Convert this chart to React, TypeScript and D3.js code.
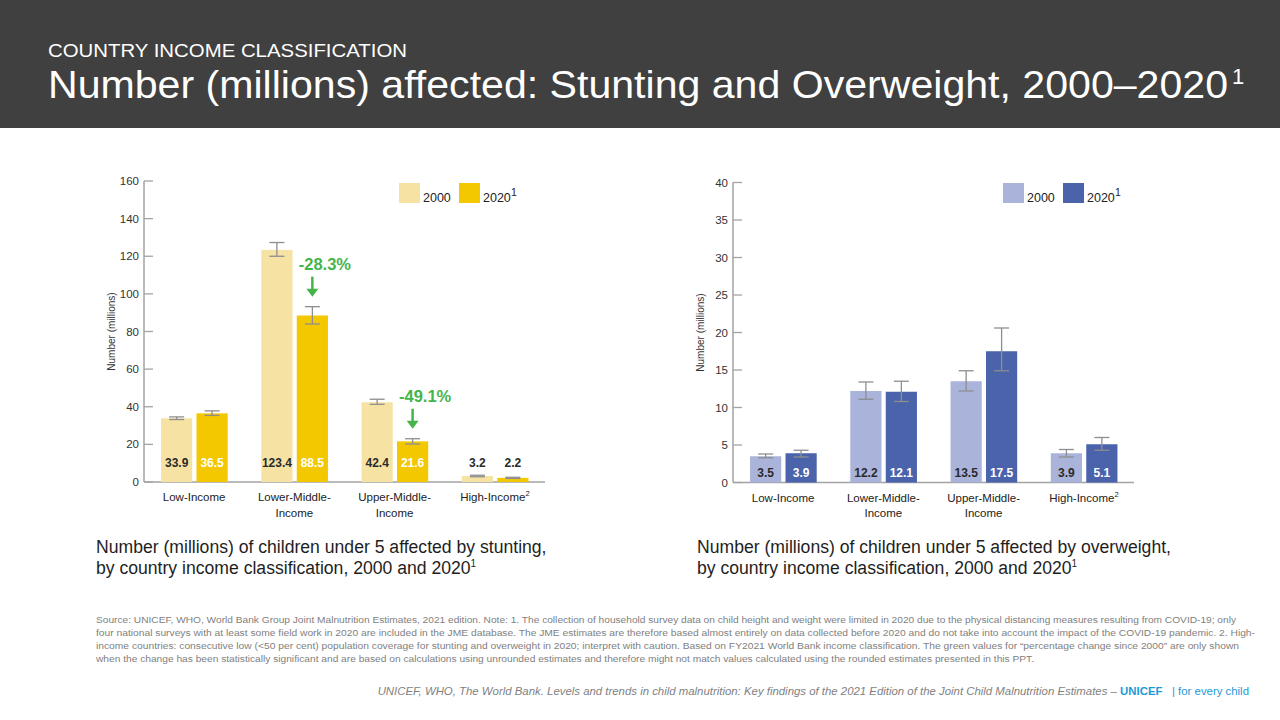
import React, { useEffect } from 'react';
import * as d3 from 'd3';

const categories = ['Low-Income', 'Lower-Middle-Income', 'Upper-Middle-Income', 'High-Income'];
const categoryLabelLines = [['Low-Income'], ['Lower-Middle-', 'Income'], ['Upper-Middle-', 'Income'], ['High-Income']];
const categorySuperscripts = ['', '', '', '2'];
const years = ['2000', '2020'];

const stunting2000 = [33.9, 123.4, 42.4, 3.2];
const stunting2020 = [36.5, 88.5, 21.6, 2.2];
const stunting2000Lower = [33.2, 120.0, 41.3, 2.8];
const stunting2000Upper = [34.6, 127.3, 44.0, 3.6];
const stunting2020Lower = [35.4, 84.0, 20.2, 1.9];
const stunting2020Upper = [37.8, 93.2, 23.0, 2.5];
const stuntingChange = ['', '-28.3%', '-49.1%', ''];
const stuntingTicks = [0, 20, 40, 60, 80, 100, 120, 140, 160];

const overweight2000 = [3.5, 12.2, 13.5, 3.9];
const overweight2020 = [3.9, 12.1, 17.5, 5.1];
const overweight2000Lower = [3.3, 11.1, 12.2, 3.4];
const overweight2000Upper = [3.8, 13.4, 14.9, 4.4];
const overweight2020Lower = [3.4, 10.8, 14.9, 4.3];
const overweight2020Upper = [4.3, 13.5, 20.6, 6.0];
const overweightChange = ['', '', '', ''];
const overweightTicks = [0, 5, 10, 15, 20, 25, 30, 35, 40];

const sourceLines = [
  'Source: UNICEF, WHO, World Bank Group Joint Malnutrition Estimates, 2021 edition. Note: 1. The collection of household survey data on child height and weight were limited in 2020 due to the physical distancing measures resulting from COVID-19; only',
  'four national surveys with at least some field work in 2020 are included in the JME database. The JME estimates are therefore based almost entirely on data collected before 2020 and do not take into account the impact of the COVID-19 pandemic.  2. High-',
  'income countries: consecutive low (<50 per cent) population coverage for stunting and overweight in 2020; interpret with caution. Based on FY2021 World Bank income classification. The green values for \u201cpercentage change since 2000\u201d are only shown',
  'when the change has been statistically significant and are based on calculations using unrounded estimates and therefore might not match values calculated using the rounded estimates presented in this PPT.',
];
const sourceLengths = [1140, 1159, 1143, 938];

const FONT = "'Liberation Sans', Arial, sans-serif";
const GREEN = '#45b549';
const AXIS = '#a3a3a3';
const ERR = '#8e8e8e';
const DARK = '#2a2a2a';

type ChartProps = {
  x0: number; x1: number; yBottom: number; yTop: number; yMax: number; ticks: number[];
  v2000: number[]; v2020: number[]; lo2000: number[]; hi2000: number[]; lo2020: number[]; hi2020: number[];
  change: string[]; colors: string[]; labelOffset: number; legendX: number; yTitleX: number;
  caption: string[]; captionX: number;
};

function BarChart(p: ChartProps) {
  const x = d3.scaleBand<string>().domain(categories).range([p.x0, p.x1]).paddingInner(0).paddingOuter(0);
  const bw = x.bandwidth();
  const sub = d3.scaleBand<string>().domain(years).range([bw * 0.17, bw * 0.835]).paddingInner(0.12);
  const y = d3.scaleLinear().domain([0, p.yMax]).range([p.yBottom, p.yTop]);
  const series = [
    { year: '2000', vals: p.v2000, lo: p.lo2000, hi: p.hi2000, color: p.colors[0] },
    { year: '2020', vals: p.v2020, lo: p.lo2020, hi: p.hi2020, color: p.colors[1] },
  ];
  const labelY = p.yBottom - p.labelOffset;
  const capW = 15;
  return (
    <g fontFamily={FONT}>
      <line x1={p.x0} x2={p.x0} y1={y(p.yMax)} y2={p.yBottom} stroke={AXIS} strokeWidth={1.5} />
      <line x1={p.x0} x2={p.x1} y1={p.yBottom} y2={p.yBottom} stroke={AXIS} strokeWidth={1.5} />
      {p.ticks.map((t) => (
        <g key={t}>
          <line x1={p.x0} x2={p.x0 + 9} y1={y(t)} y2={y(t)} stroke={AXIS} strokeWidth={1.3} />
          <text x={p.x0 - 5} y={y(t)} dy="0.35em" textAnchor="end" fontSize={11.5} fill="#333">{t}</text>
        </g>
      ))}
      <text transform={`translate(${p.yTitleX},${(p.yTop + p.yBottom) / 2})) rotate(-90)`.replace('))', ')')} textAnchor="middle" fontSize={10} fill="#333" dy="0.35em">Number (millions)</text>
      {series.map((s) => categories.map((c, i) => {
        const bx = (x(c) as number) + (sub(s.year) as number);
        const cx = bx + sub.bandwidth() / 2;
        const top = y(s.vals[i]);
        const inside = top < labelY - 12;
        const labelColor = s.year === '2020' && inside ? '#ffffff' : DARK;
        return (
          <g key={s.year + c}>
            <rect x={bx} y={top} width={sub.bandwidth()} height={p.yBottom - top} fill={s.color} />
            <line x1={cx} x2={cx} y1={y(s.lo[i])} y2={y(s.hi[i])} stroke={ERR} strokeWidth={1.3} />
            <line x1={cx - capW / 2} x2={cx + capW / 2} y1={y(s.lo[i])} y2={y(s.lo[i])} stroke={ERR} strokeWidth={1.3} />
            <line x1={cx - capW / 2} x2={cx + capW / 2} y1={y(s.hi[i])} y2={y(s.hi[i])} stroke={ERR} strokeWidth={1.3} />
            <text x={cx} y={labelY} textAnchor="middle" fontSize={12} fontWeight="bold" fill={labelColor}>{s.vals[i].toFixed(1)}</text>
          </g>
        );
      }))}
      {categories.map((c, i) => {
        if (!p.change[i]) return null;
        const bx = (x(c) as number) + (sub('2020') as number);
        const cx = bx + sub.bandwidth() / 2;
        const aEnd = y(p.hi2020[i]) - 10;
        const aStart = aEnd - 20;
        return (
          <g key={'chg' + c}>
            <text x={bx + 2} y={aStart - 7} fontSize={16.5} fontWeight="bold" fill={GREEN}>{p.change[i]}</text>
            <line x1={cx} x2={cx} y1={aStart} y2={aEnd - 7} stroke={GREEN} strokeWidth={2.5} />
            <path d={`M${cx - 6},${aEnd - 8} L${cx + 6},${aEnd - 8} L${cx},${aEnd} Z`} fill={GREEN} />
          </g>
        );
      })}
      {categories.map((c, i) => {
        const cx = (x(c) as number) + bw / 2;
        return (
          <text key={'lab' + c} x={cx} y={p.yBottom + 19} textAnchor="middle" fontSize={11.5} fill="#222">
            {categoryLabelLines[i].map((ln, k) => (
              <tspan key={k} x={cx} dy={k === 0 ? 0 : 15.5}>{ln}</tspan>
            ))}
            {categorySuperscripts[i] ? <tspan fontSize={7.5} dy={-5}>{categorySuperscripts[i]}</tspan> : null}
          </text>
        );
      })}
      <rect x={p.legendX} y={183} width={21} height={20} fill={p.colors[0]} />
      <text x={p.legendX + 24} y={202} fontSize={12.5} fill="#222">2000</text>
      <rect x={p.legendX + 60} y={183} width={21} height={20} fill={p.colors[1]} />
      <text x={p.legendX + 84} y={202} fontSize={12.5} fill="#222">2020</text>
      <text x={p.legendX + 112} y={196} fontSize={10.5} fill="#222">1</text>
      <text x={p.captionX} y={553} fontSize={17.6} fill="#1e1e1e">{p.caption[0]}</text>
      <text x={p.captionX} y={574} fontSize={17.6} fill="#1e1e1e">{p.caption[1]}<tspan fontSize={10} dy={-7}>1</tspan></text>
    </g>
  );
}

export default function App() {
  useEffect(() => {
    document.body.style.margin = '0';
  }, []);
  return (
    <svg width={1280} height={720} style={{ display: 'block', position: 'absolute', left: 0, top: 0, background: '#fff' }} fontFamily={FONT}>
      <rect x={0} y={0} width={1280} height={720} fill="#ffffff" />
      <rect x={0} y={0} width={1280} height={128} fill="#404040" />
      <text x={48} y={57} fontSize={19} fill="#ffffff" textLength={359} lengthAdjust="spacingAndGlyphs">COUNTRY INCOME CLASSIFICATION</text>
      <text x={48} y={98} fontSize={39} fill="#ffffff" textLength={1180} lengthAdjust="spacingAndGlyphs">Number (millions) affected: Stunting and Overweight, 2000–2020</text>
      <text x={1232} y={84} fontSize={22} fill="#ffffff">1</text>

      <BarChart x0={144} x1={545} yBottom={482} yTop={181} yMax={160} ticks={stuntingTicks}
        v2000={stunting2000} v2020={stunting2020} lo2000={stunting2000Lower} hi2000={stunting2000Upper}
        lo2020={stunting2020Lower} hi2020={stunting2020Upper} change={stuntingChange}
        colors={['#f6e3a4', '#f3c800']} labelOffset={15} legendX={399} yTitleX={111}
        caption={['Number (millions) of children under 5 affected by stunting,', 'by country income classification, 2000 and 2020']} captionX={96} />

      <BarChart x0={733} x1={1134} yBottom={482.5} yTop={182.5} yMax={40} ticks={overweightTicks}
        v2000={overweight2000} v2020={overweight2020} lo2000={overweight2000Lower} hi2000={overweight2000Upper}
        lo2020={overweight2020Lower} hi2020={overweight2020Upper} change={overweightChange}
        colors={['#aab3da', '#4a63ab']} labelOffset={6} legendX={1003} yTitleX={700}
        caption={['Number (millions) of children under 5 affected by overweight,', 'by country income classification, 2000 and 2020']} captionX={697} />

      {sourceLines.map((ln, i) => (
        <text key={i} x={96} y={623 + i * 13} fontSize={9.6} fill="#7f7f7f" textLength={sourceLengths[i]} lengthAdjust="spacingAndGlyphs">{ln}</text>
      ))}
      <text x={1249} y={695} textAnchor="end" fontSize={11.4} fill="#7f7f7f">
        <tspan fontStyle="italic">UNICEF, WHO, The World Bank. Levels and trends in child malnutrition: Key findings of the 2021 Edition of the Joint Child Malnutrition Estimates – </tspan>
        <tspan fontWeight="bold" fill="#1c9ad6">UNICEF</tspan>
        <tspan fill="#1c9ad6" xmlSpace="preserve">{'   | for every child'}</tspan>
      </text>
    </svg>
  );
}
